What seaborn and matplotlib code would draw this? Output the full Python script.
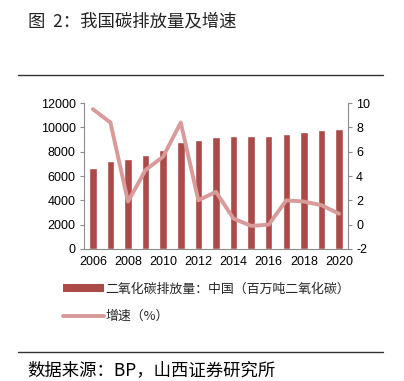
import numpy as np
import pandas as pd
import matplotlib
matplotlib.use('Agg')
import matplotlib.pyplot as plt
import seaborn as sns
from matplotlib.patches import Patch
from matplotlib.lines import Line2D

# Data
years = [2006, 2007, 2008, 2009, 2010, 2011, 2012, 2013, 2014, 2015, 2016, 2017, 2018, 2019, 2020]
emissions = [6680, 7260, 7370, 7700, 8140, 8820, 8990, 9210, 9290, 9260, 9260, 9450, 9640, 9780, 9890]
growth = [9.5, 8.4, 1.9, 4.5, 5.6, 8.4, 2.0, 2.7, 0.5, -0.1, 0.0, 2.0, 1.9, 1.6, 0.9]

bar_label = '二氧化碳排放量：中国（百万吨二氧化碳）'
line_label = '增速（%）'

bar_color = '#AB4A48'
line_color = '#D99A9A'
spine_color = '#8C8C8C'

df = pd.DataFrame({'year': [str(y) for y in years], 'emissions': emissions,
                   'growth': growth, 'pos': np.arange(len(years))})

sns.set_style('white')
plt.rcParams['font.family'] = ['Noto Sans CJK SC', 'DejaVu Sans']
plt.rcParams['axes.unicode_minus'] = False

fig = plt.figure(figsize=(4.04, 3.81), dpi=100)
ax = fig.add_axes([0.208, 0.3465, 0.653, 0.383])

sns.barplot(data=df, x='year', y='emissions', color=bar_color, width=0.43,
            saturation=1, ax=ax)
ax.set_ylim(0, 12000)
ax.set_yticks(range(0, 12001, 2000))
ax.set_xlim(-0.5, 14.5)
ax.set_xlabel('')
ax.set_ylabel('')

ax2 = ax.twinx()
sns.lineplot(data=df, x='pos', y='growth', color=line_color, linewidth=2.8, ax=ax2)
ax2.set_ylim(-2, 10)
ax2.set_yticks(range(-2, 11, 2))
ax2.set_xlim(-0.5, 14.5)
ax2.set_ylabel('')
ax2.set_xlabel('')

# x ticks: labels every other year, tick marks at category boundaries
ax.set_xticks(range(0, 15, 2))
ax.set_xticklabels([str(y) for y in years[::2]])
ax.set_xticks(np.arange(1.5, 14.6, 2), minor=True)
ax.tick_params(axis='x', which='major', length=0, pad=5)
ax.tick_params(axis='x', which='minor', length=3, color=spine_color, direction='out')
ax.tick_params(axis='y', length=3, color=spine_color, direction='out', pad=3, left=True)
ax2.tick_params(axis='y', length=3, color=spine_color, direction='out', pad=3, right=True)

for a in (ax, ax2):
    for lbl in a.get_xticklabels() + a.get_yticklabels():
        lbl.set_fontfamily('Liberation Sans')
        lbl.set_fontsize(9)
        lbl.set_color('#000000')
    a.spines['top'].set_visible(False)
    for s in ['left', 'right', 'bottom']:
        a.spines[s].set_color(spine_color)
        a.spines[s].set_linewidth(0.8)
ax.spines['right'].set_visible(False)
ax2.spines['left'].set_visible(False)
ax2.spines['bottom'].set_visible(False)
ax.grid(False)
ax2.grid(False)

# legend below the plot
handles = [Patch(facecolor=bar_color, edgecolor='none'),
           Line2D([0], [0], color=line_color, linewidth=2.8)]
fig.legend(handles, [bar_label, line_label], loc='upper left',
           bbox_to_anchor=(0.155, 0.258), frameon=False, fontsize=9.3,
           handlelength=3.2, handleheight=0.55, handletextpad=0.1,
           labelspacing=1.1, borderaxespad=0, borderpad=0)

# title, rules and source
fig.text(0.069, 0.943, '图  2：我国碳排放量及增速', fontsize=12.5, color='#222222', va='center')
fig.add_artist(Line2D([0.045, 0.948], [0.803, 0.803], color='#333333', linewidth=1))
fig.add_artist(Line2D([0.045, 0.948], [0.077, 0.077], color='#333333', linewidth=1))
fig.text(0.067, 0.029, '数据来源：BP，山西证券研究所', fontsize=12.5, color='#000000',
         va='center')

fig.savefig('out.png', dpi=100)
